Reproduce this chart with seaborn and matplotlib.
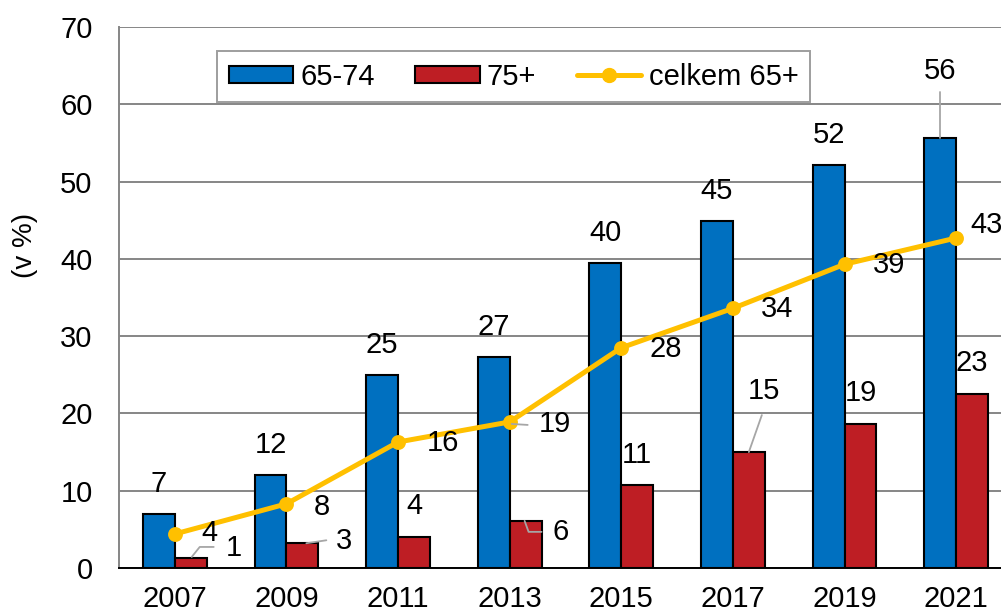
import numpy as np
import pandas as pd
import matplotlib
matplotlib.use("Agg")
import matplotlib.pyplot as plt
import seaborn as sns
from matplotlib.patches import Patch
from matplotlib.lines import Line2D
from matplotlib.transforms import IdentityTransform

years = ["2007", "2009", "2011", "2013", "2015", "2017", "2019", "2021"]
age_65_74 = [7.0, 12.0, 25.0, 27.3, 39.5, 44.9, 52.1, 55.6]
age_75plus = [1.3, 3.2, 4.0, 6.1, 10.7, 15.0, 18.6, 22.5]
total_65plus = [4.4, 8.3, 16.3, 18.9, 28.5, 33.6, 39.3, 42.7]
lbl_65_74 = ["7", "12", "25", "27", "40", "45", "52", "56"]
lbl_75plus = ["1", "3", "4", "6", "11", "15", "19", "23"]
lbl_total = ["4", "8", "16", "19", "28", "34", "39", "43"]
series_names = ["65-74", "75+", "celkem 65+"]

BLUE = "#0070C0"
RED = "#BE1E24"
YELLOW = "#FFC000"
GRID = "#868686"

sns.set_theme(style="white")
plt.rcParams["font.family"] = ["Liberation Sans", "DejaVu Sans"]
plt.rcParams["text.color"] = "black"
plt.rcParams["xtick.color"] = "black"
plt.rcParams["ytick.color"] = "black"

df = pd.DataFrame({
    "year": years * 2,
    "value": age_65_74 + age_75plus,
    "group": [series_names[0]] * len(years) + [series_names[1]] * len(years),
})

fig = plt.figure(figsize=(10.01, 6.15), dpi=100)
W, H = 1001, 615
left_px, right_px, top_px, bot_px = 119, 1012, 27, 568
ax = fig.add_axes([left_px / W, 1 - bot_px / H, (right_px - left_px) / W, (bot_px - top_px) / H])

bw = 0.57
sns.barplot(data=df, x="year", y="value", hue="group", order=years,
            hue_order=series_names[:2], palette=[BLUE, RED], width=bw, saturation=1,
            edgecolor="black", linewidth=1.5, ax=ax, legend=False, zorder=3)
sns.pointplot(x=years, y=total_65plus, order=years, color=YELLOW,
              markers="o", markersize=8, linewidth=3.6, ax=ax, zorder=5)

ax.set_xlim(-0.5, len(years) - 0.5)
ax.set_ylim(0, 70)
ax.set_yticks(np.arange(0, 71, 10))
ax.yaxis.grid(True, color=GRID, linewidth=1.4, zorder=0)
ax.set_axisbelow(True)
ax.set_xlabel("")
ax.set_ylabel("")
for s in ["top", "right"]:
    ax.spines[s].set_visible(False)
ax.spines["left"].set_color(GRID)
ax.spines["left"].set_linewidth(1.4)
ax.spines["bottom"].set_color("black")
ax.spines["bottom"].set_linewidth(1.4)
ax.tick_params(axis="y", length=0, pad=19, labelsize=21, colors="black")
ax.tick_params(axis="x", length=0, pad=12, labelsize=21, colors="black")

fig.text(25 / W, 1 - 245 / H, "(v %)", rotation=90, ha="center", va="center", fontsize=20)

half = bw / 4
fs = 21
# blue labels
for i, (v, t) in enumerate(zip(age_65_74, lbl_65_74)):
    dy = 67 if i == 7 else 30
    ax.annotate(t, (i - half, v), xytext=(0, dy), textcoords="offset pixels",
                ha="center", va="center", fontsize=fs, zorder=6)
# red labels
red_off = [(43, 10), (42, 2), (0, 31), (35, -11), (0, 30), (15, 61), (0, 31), (0, 31)]
for i, (v, t) in enumerate(zip(age_75plus, lbl_75plus)):
    ax.annotate(t, (i + half, v), xytext=red_off[i], textcoords="offset pixels",
                ha="center", va="center", fontsize=fs, zorder=6)
# line labels
tot_off = [(35, 1), (35, -3), (45, -1), (45, -2), (44, -1), (44, -1), (44, -1), (30, 13)]
for i, (v, t) in enumerate(zip(total_65plus, lbl_total)):
    ax.annotate(t, (i, v), xytext=tot_off[i], textcoords="offset pixels",
                ha="center", va="center", fontsize=fs, zorder=6)

# leader lines (pixel offsets relative to anchor)
fig.canvas.draw()
def leader(x, y, offs):
    X, Y = ax.transData.transform((x, y))
    xs = [X + o[0] for o in offs]
    ys = [Y + o[1] for o in offs]
    fig.add_artist(Line2D(xs, ys, transform=IdentityTransform(), color="#A6A6A6", linewidth=1.3, zorder=2))

leader(7 - half, age_65_74[7], [(0, 0), (0, 46)])
leader(0 + half, age_75plus[0], [(1, 1), (9, 11), (23, 11)])
leader(1 + half, age_75plus[1], [(4, 0), (24, 3)])
leader(3 + half, age_75plus[3], [(-1, 0), (3, -11), (16, -11)])
leader(5 + half, age_75plus[5], [(0, 0), (13, 37)])
leader(3, total_65plus[3], [(2, -2), (18, -3)])

handles = [
    Patch(facecolor=BLUE, edgecolor="black", linewidth=1.5),
    Patch(facecolor=RED, edgecolor="black", linewidth=1.5),
    Line2D([], [], color=YELLOW, linewidth=3.6, marker="o", markersize=10),
]
leg = ax.legend(handles, series_names, ncol=3, loc="upper left",
                bbox_to_anchor=((217 - left_px) / (right_px - left_px), 1 - (51 - top_px) / (bot_px - top_px)),
                fontsize=21, frameon=True, fancybox=False, handlelength=2.2,
                handleheight=0.55, handletextpad=0.25, columnspacing=1.4,
                borderpad=0.4, borderaxespad=0)
leg.get_frame().set_edgecolor(GRID)
leg.get_frame().set_linewidth(1.4)
leg.set_zorder(10)

fig.savefig("out.png", dpi=100)
